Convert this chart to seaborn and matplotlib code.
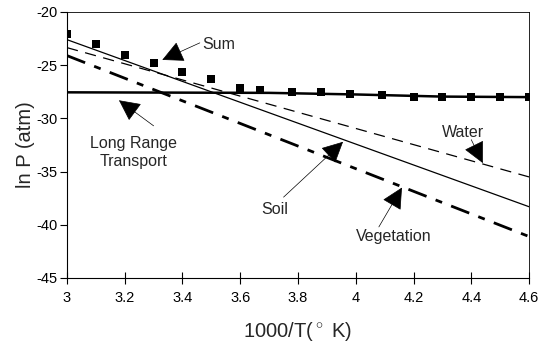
import matplotlib
matplotlib.use("Agg")
import matplotlib.pyplot as plt
import seaborn as sns
import numpy as np
import pandas as pd

# ---- data ----
sum_x = [3.0, 3.1, 3.2, 3.3, 3.4, 3.5, 3.6, 3.67, 3.78, 3.88, 3.98, 4.09, 4.2, 4.3, 4.4, 4.5, 4.6]
sum_y = [-22.1, -23.0, -24.0, -24.8, -25.6, -26.3, -27.1, -27.35, -27.5, -27.5, -27.7, -27.8, -27.95, -28.0, -28.0, -28.0, -28.0]

lrt_x = [3.0, 3.7, 4.0, 4.3, 4.6]
lrt_y = [-27.55, -27.6, -27.75, -27.95, -28.0]

soil_x = [3.0, 4.6]
soil_y = [-22.6, -38.3]

water_x = [3.0, 4.6]
water_y = [-23.35, -35.5]

veg_x = [3.0, 4.6]
veg_y = [-24.1, -41.1]

x_ticks = [3.0, 3.2, 3.4, 3.6, 3.8, 4.0, 4.2, 4.4, 4.6]
x_tick_labels = ["3", "3.2", "3.4", "3.6", "3.8", "4", "4.2", "4.4", "4.6"]
y_ticks = [-45, -40, -35, -30, -25, -20]

sns.set_style("ticks")
plt.rcParams['font.family'] = ['Liberation Sans', 'DejaVu Sans']
plt.rcParams['mathtext.fontset'] = 'custom'
plt.rcParams['mathtext.rm'] = 'Liberation Sans'
plt.rcParams['axes.unicode_minus'] = False

fig = plt.figure(figsize=(5.47, 3.47), dpi=100)
ax = fig.add_axes([67/547, 1-278/347, (529-67)/547, (278-12)/347])

sns.lineplot(x=soil_x, y=soil_y, ax=ax, color='black', lw=0.9)
sns.lineplot(x=water_x, y=water_y, ax=ax, color='black', lw=0.9)
ax.lines[-1].set_dashes((9, 6))
sns.lineplot(x=veg_x, y=veg_y, ax=ax, color='black', lw=2.0)
ax.lines[-1].set_dashes((7, 3.5, 2.5, 3.5))
sns.lineplot(x=lrt_x, y=lrt_y, ax=ax, color='black', lw=1.8)
sns.scatterplot(x=sum_x, y=sum_y, ax=ax, marker='s', s=36, color='black',
                edgecolor='black', linewidth=0, zorder=5)

ax.set_xlim(3.0, 4.6)
ax.set_ylim(-45, -20)
ax.set_xticks(x_ticks)
ax.set_xticklabels(x_tick_labels)
ax.set_yticks(y_ticks)
ax.tick_params(axis='x', direction='inout', length=9, width=0.8, labelsize=10.5, pad=5, colors='black')
ax.tick_params(axis='y', direction='out', length=5, width=0.8, labelsize=10.5, pad=1.5, colors='black')
for s in ax.spines.values():
    s.set_linewidth(0.8)
    s.set_color('black')
ax.spines['top'].set_linewidth(0.6)
ax.spines['right'].set_linewidth(0.6)

ax.set_xlabel(r'1000/T($^\circ$ K)', fontsize=14.5, labelpad=11)
ax.set_ylabel('ln P (atm)', fontsize=14.5, labelpad=1)

arrow = dict(arrowstyle='-|>,head_length=0.9,head_width=0.45', color='black', lw=0.5,
             shrinkA=0, shrinkB=0, mutation_scale=15)

fs = 11.5
ax.annotate('', xy=(3.33, -24.5), xytext=(3.46, -22.9), arrowprops=arrow)
ax.text(3.47, -23.1, 'Sum', fontsize=fs, ha='left', va='center')

ax.annotate('', xy=(3.18, -28.3), xytext=(3.30, -30.7), arrowprops=arrow)
ax.text(3.229, -33.2, 'Long Range\nTransport', fontsize=fs, ha='center', va='center', linespacing=1.2)

ax.annotate('', xy=(4.44, -34.2), xytext=(4.40, -32.0), arrowprops=arrow)
ax.text(4.37, -31.3, 'Water', fontsize=fs, ha='center', va='center')

ax.annotate('', xy=(3.956, -32.2), xytext=(3.75, -37.4), arrowprops=arrow)
ax.text(3.72, -38.6, 'Soil', fontsize=fs, ha='center', va='center')

ax.annotate('', xy=(4.16, -36.5), xytext=(4.08, -40.2), arrowprops=arrow)
ax.text(4.13, -41.1, 'Vegetation', fontsize=fs, ha='center', va='center')

fig.savefig('out.png', dpi=100)
